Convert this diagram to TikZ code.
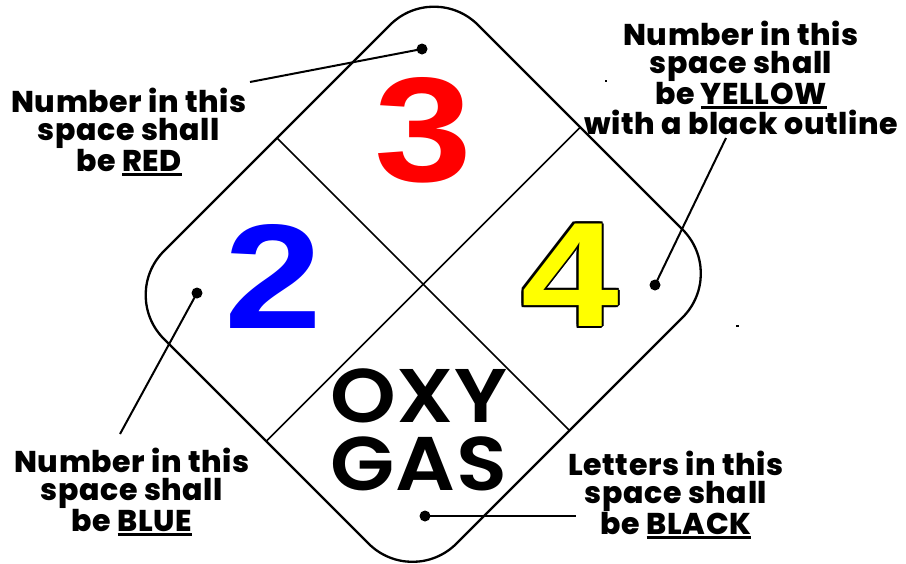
\documentclass[tikz,border=0pt]{standalone}
\usepackage{fontspec}
\usetikzlibrary{calc}
\newfontfamily\popfont{Poppins ExtraBold}[LetterSpace=2]
\newfontfamily\popsemi{Poppins SemiBold}[FakeStretch=1.1,LetterSpace=1]
\newfontfamily\digfont{Liberation Sans}
\newcommand\myul[1]{\setbox0\hbox{#1}\leavevmode\rlap{\rule[-4.5pt]{\wd0}{2.5pt}}\box0}
\definecolor{signred}{RGB}{255,0,0}
\definecolor{signblue}{RGB}{0,0,255}
\definecolor{signyellow}{RGB}{255,255,0}
\begin{document}
\begin{tikzpicture}[x=1pt,y=-1pt,
  plateoutline/.style={draw=black,line width=2.3pt,rounded corners=62pt},
  divider/.style={draw=black,line width=1.6pt},
  leaderline/.style={draw=black,line width=2pt},
  dotmark/.style={circle,fill=black,inner sep=0pt,minimum size=11pt},
  notelabel/.style={font=\popfont\fontsize{30}{27.4}\selectfont,align=center,inner sep=0pt,anchor=north},
  bigdigit/.style={font=\digfont\bfseries\fontsize{149}{149}\selectfont,inner sep=0pt},
]
\useasboundingbox (0,0) rectangle (906,563);
\fill[white] (0,0) rectangle (906,563);

% plate
\coordinate (T) at (434,-19);
\coordinate (R) at (726.5,273.5);
\coordinate (B) at (412.5,587.5);
\coordinate (L) at (120,295);
\draw[plateoutline] ($(L)!0.5!(T)$) -- (T) -- (R) -- (B) -- (L) -- cycle;
\draw[divider] ($(L)!0.5!(T)$) -- ($(B)!0.5!(R)$);
\draw[divider] ($(T)!0.5!(R)$) -- ($(L)!0.5!(B)$);

% numbers
\node[bigdigit,text=signred] (three) at (423.5,130.5) {\scalebox{1.18}[1]{3}};
\node[bigdigit,text=signblue] (two) at (273.5,276) {\scalebox{1.18}[1]{2}};
\foreach \a in {0,45,...,315}
  \node[bigdigit,text=black] (fourback\a) at ($(570,275)+(\a:2)$) {\scalebox{1.18}[1]{4}};
\node[bigdigit,text=black] (fourshadow) at (568,277) {\scalebox{1.18}[1]{4}};
\node[bigdigit,text=signyellow] (four) at (570,275) {\scalebox{1.18}[1]{4}};

\node[font=\popsemi\fontsize{76}{68}\selectfont,align=center,inner sep=0pt] (oxygas) at (419,430) {OXY\\GAS};

% labels
\node[notelabel] (redlabel) at (129,88) {Number in this\\space shall\\be \myul{RED}};
\node[notelabel] (yellowlabel) at (741,21) {Number in this\\space shall\\be \myul{YELLOW}\\with a black outline};
\node[notelabel] (bluelabel) at (132,448) {Number in this\\space shall\\be \myul{BLUE}};
\node[notelabel] (blacklabel) at (676,451) {Letters in this\\space shall\\be \myul{BLACK}};

% leaders
\node[dotmark] (reddot) at (422,49) {};
\node[dotmark] (yellowdot) at (655,285) {};
\node[dotmark] (bluedot) at (197,293) {};
\node[dotmark] (blackdot) at (425,516) {};
\coordinate (redend) at (250,82);
\coordinate (yellowend) at (726,138);
\coordinate (blueend) at (120,434);
\coordinate (blackend) at (576,516);
\draw[leaderline] (redend) -- (reddot.center);
\draw[leaderline] (yellowend) -- (yellowdot.center);
\draw[leaderline] (blueend) -- (bluedot.center);
\draw[leaderline] (blackdot.center) -- (blackend);

% specks
\fill (605,80) rectangle (607,82);
\fill (736,325) rectangle (739,326.5);
\end{tikzpicture}
\end{document}
